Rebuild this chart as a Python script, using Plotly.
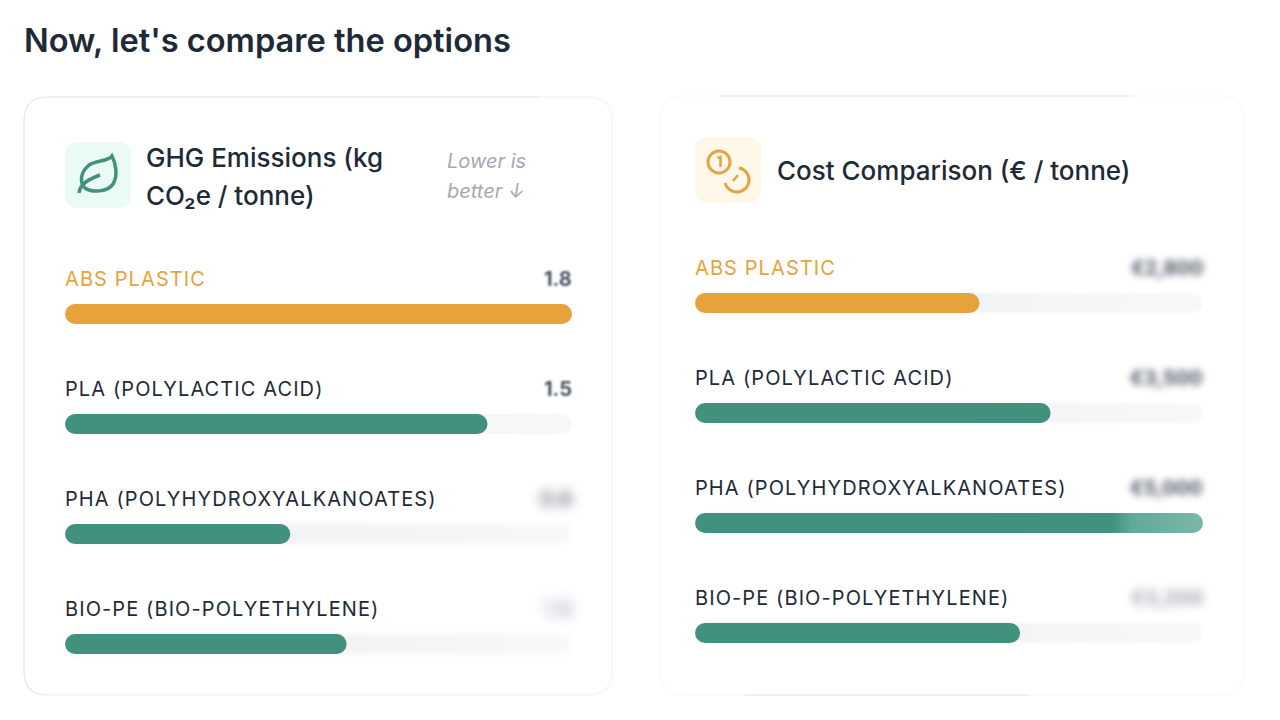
import plotly.graph_objects as go
from plotly.subplots import make_subplots

WIDTH = 1280
HEIGHT = 720

materials = ["ABS Plastic", "PLA (Polylactic Acid)", "PHA (Polyhydroxyalkanoates)", "Bio-PE (Bio-Polyethylene)"]

ghg_values = [1.8, 1.5, 0.8, 1.0]
ghg_labels = ["1.8", "1.5", "0.8", "1.0"]
ghg_max = 1.8

cost_values = [2800, 3500, 5000, 3200]
cost_labels = ["€2,800", "€3,500", "€5,000", "€3,200"]
cost_max = 5000

ORANGE = "#e8a23b"
TEAL = "#42917f"
TRACK = "#f1f3f5"
INK = "#1f2a37"
RULE = "#e9ebee"
FAINT = "#f6f7f8"
FONT = "Inter"

BAR_PX = 20
BAND_PX = 110


def px_x(x):
    return x / WIDTH


def px_y(y):
    return 1 - y / HEIGHT


def to_path(cmds):
    # cmds are in picture pixels, paper coords are needed for the shapes
    out = []
    for c in cmds:
        pts = c[1:]
        s = c[0]
        for i in range(0, len(pts), 2):
            s += f" {px_x(pts[i]):.5f},{px_y(pts[i + 1]):.5f}"
        out.append(s)
    return " ".join(out)


def round_rect(x0, y0, x1, y1, r):
    return to_path([
        ("M", x0 + r, y0), ("L", x1 - r, y0), ("Q", x1, y0, x1, y0 + r),
        ("L", x1, y1 - r), ("Q", x1, y1, x1 - r, y1),
        ("L", x0 + r, y1), ("Q", x0, y1, x0, y1 - r),
        ("L", x0, y0 + r), ("Q", x0, y0, x0 + r, y0), ("Z",),
    ])


def card_shape(x0, y0, x1, y1, r, fill, line="rgba(0,0,0,0)", width=0):
    return dict(type="path", xref="paper", yref="paper", path=round_rect(x0, y0, x1, y1, r),
                fillcolor=fill, line=dict(color=line, width=width), layer="below")


def stroke(cmds, color, width=3.0, layer="above"):
    return dict(type="path", xref="paper", yref="paper", path=to_path(cmds),
                line=dict(color=color, width=width), fillcolor="rgba(0,0,0,0)", layer=layer)


def circle(cx, cy, r, color, width=3.0):
    return dict(type="circle", xref="paper", yref="paper",
                x0=px_x(cx - r), x1=px_x(cx + r), y0=px_y(cy + r), y1=px_y(cy - r),
                line=dict(color=color, width=width), layer="above")


fig = make_subplots(rows=1, cols=2)

row_colors = [ORANGE, TEAL, TEAL, TEAL]

# a bar that does not start at exactly 0 gets rounded on both ends
for col, values, top in [
    (1, ghg_values, ghg_max),
    (2, cost_values, cost_max),
]:
    start = top * 0.0001
    fig.add_trace(go.Bar(y=materials, x=[top - start] * 4, base=start, orientation="h",
                         marker=dict(color=TRACK, line_width=0), width=BAR_PX / BAND_PX,
                         hoverinfo="skip", showlegend=False), row=1, col=col)
    fig.add_trace(go.Bar(y=materials, x=[v - start for v in values], base=start, orientation="h",
                         marker=dict(color=row_colors, line_width=0), width=BAR_PX / BAND_PX,
                         customdata=values, hovertemplate="%{y}: %{customdata}<extra></extra>",
                         showlegend=False), row=1, col=col)

fig.update_xaxes(visible=False, fixedrange=True)
fig.update_yaxes(visible=False, fixedrange=True, autorange="reversed", type="category",
                 categoryorder="array", categoryarray=materials)

# Plot areas sit so that one category band is 110 px tall
fig.update_layout(
    xaxis=dict(domain=[px_x(65), px_x(572)], range=[0, ghg_max]),
    xaxis2=dict(domain=[px_x(695), px_x(1203)], range=[0, cost_max]),
    yaxis=dict(domain=[px_y(699), px_y(259)]),
    yaxis2=dict(domain=[px_y(688), px_y(248)]),
)

annotations = []
spaced = []
blurred = []


def page_text(x, y, text, size, color=INK, weight=400, style="normal"):
    annotations.append(dict(
        xref="paper", yref="paper", x=px_x(x), y=px_y(y), text=text, showarrow=False,
        xanchor="left", yanchor="middle", align="left", borderpad=0, borderwidth=0,
        font=dict(family=FONT, size=size, color=color, weight=weight, style=style),
    ))


page_text(24, 40, "Now, let's compare the options", 32.6, weight=600)
page_text(146, 157, "GHG Emissions (kg", 26, weight=500)
page_text(146, 196, "CO₂e / tonne)", 26, weight=500)
page_text(447, 161, "Lower is", 20, color="#a3a9b3", style="italic")
page_text(447, 191, "better ↓", 20, color="#a3a9b3", style="italic")
page_text(777, 170, "Cost Comparison (€ / tonne)", 26, weight=500)

# Row captions and the (mostly blurred) values
for xref, yref, xpos, labels, blur, value_colors in [
    ("x", "y", ghg_max, ghg_labels, [1, 1, 6, 7], ["#4b5563", "#4b5563", "#6b7280", "#9ca3af"]),
    ("x2", "y2", cost_max, cost_labels, [3.5, 3.5, 3.5, 5], ["#4b5563", "#4b5563", "#4b5563", "#9ca3af"]),
]:
    for i, name in enumerate(materials):
        spaced.append(len(annotations))
        annotations.append(dict(
            xref=xref, yref=yref, x=0, y=name, yshift=35, text=name, showarrow=False,
            xanchor="left", yanchor="middle", align="left", borderpad=0, borderwidth=0,
            font=dict(family=FONT, size=20, color=ORANGE if i == 0 else INK, textcase="upper"),
        ))
        blurred.append((len(annotations), blur[i]))
        annotations.append(dict(
            xref=xref, yref=yref, x=xpos, y=name, yshift=35, text=labels[i], showarrow=False,
            xanchor="right", yanchor="middle", align="right", borderpad=0, borderwidth=0,
            font=dict(family=FONT, size=20, color=value_colors[i], weight=700),
        ))

shapes = [
    card_shape(24, 97, 612, 695, 24, "#ffffff"),
    # the card outlines fade out in the reference, so two strengths of line
    stroke([("M", 48, 695), ("Q", 24, 695, 24, 671), ("L", 24, 121), ("Q", 24, 97, 48, 97), ("L", 540, 97)],
           RULE, 1.5, "below"),
    stroke([("M", 540, 97), ("L", 588, 97), ("Q", 612, 97, 612, 121), ("L", 612, 671),
            ("Q", 612, 695, 588, 695), ("L", 48, 695)], FAINT, 2, "below"),
    stroke([("M", 660, 120), ("Q", 660, 96, 684, 96), ("L", 1220, 96), ("Q", 1244, 96, 1244, 120),
            ("L", 1244, 671), ("Q", 1244, 695, 1220, 695), ("L", 684, 695), ("Q", 660, 695, 660, 671), ("Z",)],
           "#fbfbfc", 2, "below"),
    stroke([("M", 720, 96), ("L", 1130, 96)], RULE, 1.5, "below"),
    stroke([("M", 745, 695), ("L", 1030, 695)], RULE, 1.5, "below"),
    card_shape(65, 142, 131, 208, 14, "#eafaf5"),
    card_shape(695, 137, 761, 203, 14, "#fff8e8"),
    # leaf
    stroke([("M", 79, 193), ("C", 80, 186, 84, 181, 100, 175)], TEAL, 3.5),
    stroke([("M", 112, 156), ("C", 108, 162, 94, 160, 88, 166), ("C", 81, 172, 79, 182, 85, 188),
            ("C", 92, 193, 108, 192, 113, 184), ("C", 118, 176, 116, 164, 112, 156), ("Z",)], TEAL, 3.5),
    # coins
    circle(719, 162, 11, "#e2a445"),
    stroke([("M", 717.5, 158), ("L", 720.5, 157), ("L", 720.5, 167)], "#e2a445", 2.5),
    stroke([("M", 739, 168), ("C", 745, 169, 749, 174, 749, 180), ("C", 749, 187, 743, 192, 737, 192),
            ("C", 732, 192, 727, 189, 725, 183)], "#e2a445", 3),
    stroke([("M", 733, 181), ("L", 738, 175)], "#e2a445", 2.5),
]

fig.update_layout(
    width=WIDTH,
    height=HEIGHT,
    margin=dict(l=0, r=0, t=0, b=0),
    paper_bgcolor="#ffffff",
    plot_bgcolor="rgba(0,0,0,0)",
    barmode="overlay",
    barcornerradius=10,
    annotations=annotations,
    shapes=shapes,
    font=dict(family=FONT),
)

# letter spacing, blur and fades have no plotly attribute, so they go in as page css
css = ["body{margin:0}"]
for i in spaced:
    css.append(f'.annotation[data-index="{i}"] text{{letter-spacing:1.1px}}')
for i, b in blurred:
    css.append(f'.annotation[data-index="{i}"]{{filter:blur({b}px)}}')
css.append(".subplot .barlayer .trace:nth-child(1) .point path{fill:url(#trackfade)!important}")
css.append(".subplot.xy .barlayer .trace:nth-child(1) .point:nth-child(n+3) path{filter:blur(3px)}")
css.append(".subplot.x2y2 .barlayer .trace:nth-child(1) .point path{filter:blur(1.5px)}")
css.append(".subplot.x2y2 .barlayer .trace:nth-child(2) .point:nth-child(3) path{fill:url(#barfade)!important}")

post_script = """
var st = document.createElement('style');
st.textContent = %r;
document.head.appendChild(st);
document.querySelector('.main-svg').insertAdjacentHTML('beforeend',
  '<defs><linearGradient id="trackfade"><stop offset="0.55" stop-color="#f1f3f5"/><stop offset="1" stop-color="#f7f8fa"/></linearGradient>' +
  '<linearGradient id="barfade"><stop offset="0.82" stop-color="#42917f"/><stop offset="0.86" stop-color="#62a898"/><stop offset="1" stop-color="#7bb8aa"/></linearGradient></defs>');
""" % "".join(css)

fig.write_html("out.html", config={"displayModeBar": False}, post_script=post_script)
